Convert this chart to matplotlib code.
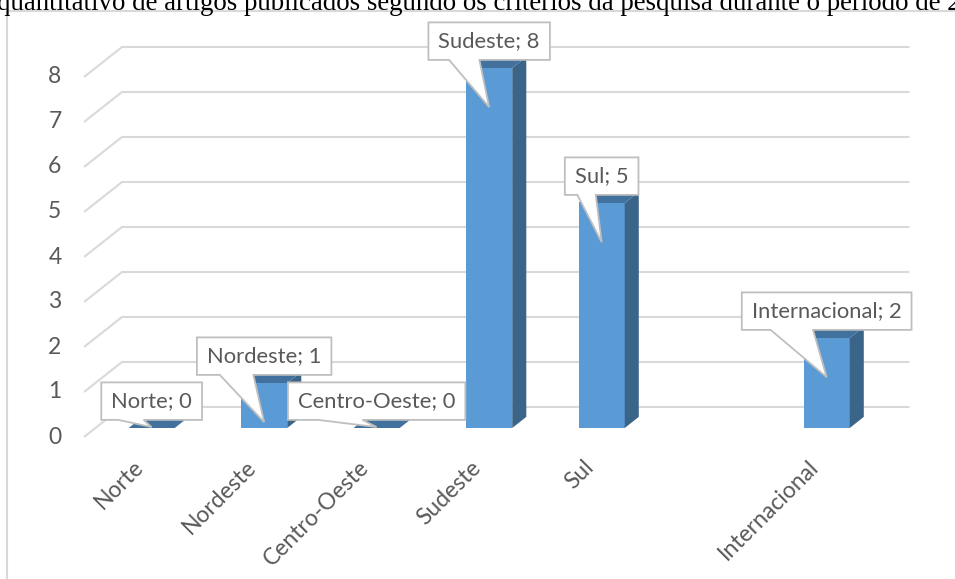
import matplotlib.pyplot as plt
from matplotlib.patches import Polygon, Rectangle

# dados do grafico (artigos por regiao)
categorias = ["Norte", "Nordeste", "Centro-Oeste", "Sudeste", "Sul", "", "Internacional"]
valores = [0, 1, 0, 8, 5, None, 2]
marcas_y = [0, 1, 2, 3, 4, 5, 6, 7, 8]
titulo = ("quantitativo de artigos publicados segundo os critérios da pesquisa "
          "durante o período de 2")

cor_frente = "#5B9BD5"
cor_lado = "#3B6489"
cor_topo = "#41719C"
cor_grade = "#D9D9D9"
cor_texto = "#595959"
fonte = ["Lato", "DejaVu Sans"]

W, H = 955, 579
fig = plt.figure(figsize=(W / 100, H / 100), dpi=100)

# profundidade do "3D" em unidades de dados
DX, DY = 0.338, 0.667
f0, fd = 0.3, 0.37  # posicao e espessura da barra na profundidade
larg = 0.41

x0, x1 = -0.5, len(categorias) - 0.5 + DX
y0, y1 = -0.5, 9.2
px_x = 112.5
px_y = 45.0
esq = 84
base0 = 437  # pixel (de cima) do zero
ax = fig.add_axes([esq / W, (H - (base0 - y0 * px_y)) / H,
                   (x1 - x0) * px_x / W, (y1 - y0) * px_y / H])
ax.set_xlim(x0, x1)
ax.set_ylim(y0, y1)
ax.axis("off")

# moldura do grafico
fig.patches.append(Rectangle((7 / W, -0.1), 1.2, 1 - 11 / H + 0.1, transform=fig.transFigure,
                             fill=False, edgecolor=cor_grade, lw=1.5))

# titulo (cortado na imagem original)
fig.text(479 / W, 1 - 10 / H, titulo, ha="center", va="baseline",
         family="Liberation Serif", fontsize=19.4, color="black")

# linhas de grade com a parede de fundo
for v in marcas_y:
    ax.plot([x0, x0 + DX, x1], [v, v + DY, v + DY], color=cor_grade, lw=1.5,
            solid_capstyle="butt", zorder=1)
    ax.text(x0 - 0.2, v, str(v), ha="right", va="center", fontsize=16.5,
            family=fonte, color=cor_texto)

# barras
bdx, bdy = fd * DX, fd * DY
ox, oy = f0 * DX, f0 * DY
for i, v in enumerate(valores):
    if v is None:
        continue
    cx = i + ox
    l, r = cx - larg / 2, cx + larg / 2
    b, t = oy, oy + v
    if v > 0:
        ax.add_patch(Rectangle((l, b), larg, v, facecolor=cor_frente, edgecolor="none", zorder=3))
        ax.add_patch(Polygon([(r, b), (r + bdx, b + bdy), (r + bdx, t + bdy), (r, t)],
                             closed=True, facecolor=cor_lado, edgecolor="none", zorder=3))
    ax.add_patch(Polygon([(l, t), (r, t), (r + bdx, t + bdy), (l + bdx, t + bdy)],
                         closed=True, facecolor=cor_topo, edgecolor="none", zorder=3))

# rotulos do eixo x
for i, c in enumerate(categorias):
    ax.text(i + 0.0, -0.6, c, rotation=45, rotation_mode="anchor", ha="right",
            va="center", fontsize=16.5, family=fonte, color=cor_texto, clip_on=False)

# balões com "categoria; valor"
fig.canvas.draw()
ren = fig.canvas.get_renderer()
inv = ax.transData.inverted()
pad_x = 10 / px_x
alt_caixa = 37.5 / px_y
for i, v in enumerate(valores):
    if v is None:
        continue
    cx = i + ox
    topo = oy + v
    bx = topo + 0.18
    txt = ax.text(cx, bx + alt_caixa / 2, f"{categorias[i]}; {v}", ha="center", va="center",
                  fontsize=15.8, family=fonte, color=cor_texto, zorder=6, clip_on=False)
    bb = txt.get_window_extent(renderer=ren)
    (a, _), (c, _) = inv.transform([[bb.x0, bb.y0], [bb.x1, bb.y1]])
    w_txt = c - a
    L = cx - w_txt / 2 - pad_x
    R = cx + w_txt / 2 + pad_x
    w = R - L
    ponta = (cx, max(topo - 0.87, oy + 0.02))
    pts = [(L, bx), (L + 0.17 * w, bx), ponta, (L + 0.42 * w, bx), (R, bx),
           (R, bx + alt_caixa), (L, bx + alt_caixa)]
    ax.add_patch(Polygon(pts, closed=True, facecolor="white", edgecolor="#BFBFBF",
                         lw=1.3, zorder=5, clip_on=False))

fig.savefig("out.png", dpi=100)
